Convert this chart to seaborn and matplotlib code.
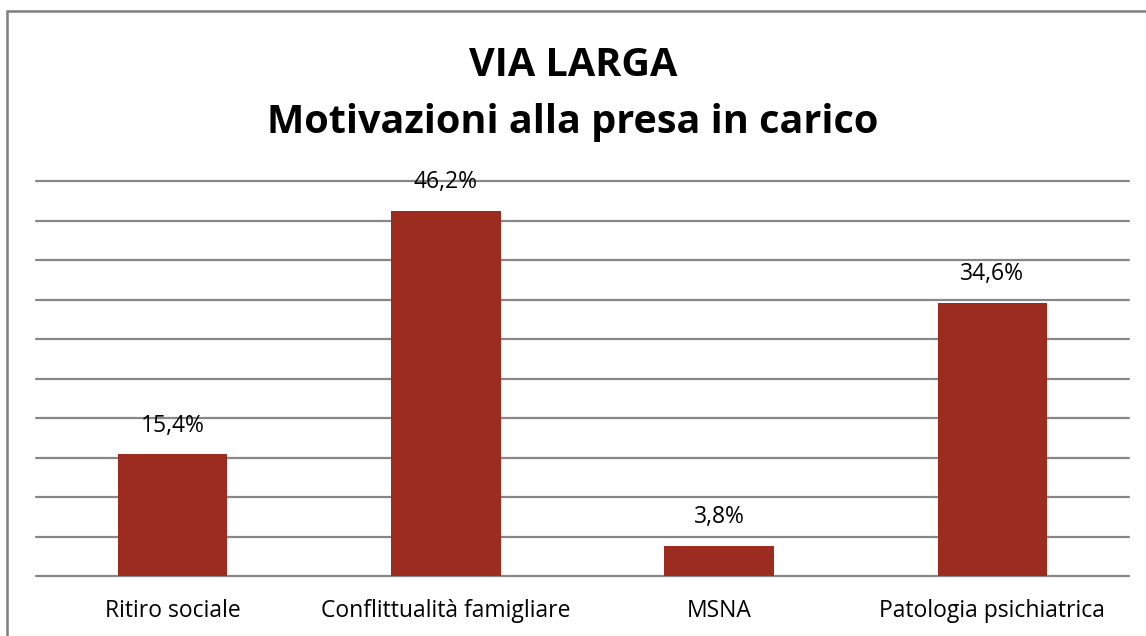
import matplotlib
matplotlib.use('Agg')
import matplotlib.pyplot as plt
import seaborn as sns
import pandas as pd
from matplotlib.patches import Rectangle

categories = ['Ritiro sociale', 'Conflittualità famigliare', 'MSNA', 'Patologia psichiatrica']
values = [15.4, 46.2, 3.8, 34.6]
labels = ['15,4%', '46,2%', '3,8%', '34,6%']
yticks = [0, 5, 10, 15, 20, 25, 30, 35, 40, 45, 50]

df = pd.DataFrame({'motivo': categories, 'perc': values})

sns.set_style('white', rc={'text.color': 'black', 'xtick.color': 'black'})
plt.rcParams['font.family'] = ['Open Sans', 'DejaVu Sans']

fig = plt.figure(figsize=(11.46, 6.36), dpi=100)
ax = fig.add_axes([36 / 1146, 1 - 576 / 636, (1129 - 36) / 1146, (576 - 181) / 636])

sns.barplot(x='motivo', y='perc', data=df, color='#9C2C20', width=0.4,
            saturation=1, linewidth=0, ax=ax, zorder=3)

ax.set_ylim(0, 50)
ax.set_xlim(-0.5, 3.5)
ax.set_yticks(yticks)
ax.yaxis.grid(True, color='#878787', linewidth=1.6, zorder=0)
for gl in ax.get_ygridlines():
    gl.set_clip_on(False)
ax.set_axisbelow(True)
ax.tick_params(axis='y', left=False, labelleft=False)
ax.tick_params(axis='x', bottom=False, labelsize=16.5, labelcolor='black', pad=13)
for s in ax.spines.values():
    s.set_visible(False)
ax.set_xlabel('')
ax.set_ylabel('')

for i, (v, lab) in enumerate(zip(values, labels)):
    ax.text(i, v + 2.1, lab, ha='center', va='bottom', fontsize=16.5, color='black')

fig.text(0.5, 1 - 65 / 636, 'VIA LARGA', ha='center', va='center',
         fontsize=28.5, fontweight='bold', color='black')
fig.text(0.5, 1 - 122 / 636, 'Motivazioni alla presa in carico', ha='center',
         va='center', fontsize=28.5, fontweight='bold', color='black')

fig.patches.append(Rectangle((7 / 1146, -0.1), 1.2, 1 - 11 / 636 + 0.1,
                             transform=fig.transFigure, fill=False,
                             edgecolor='#7f7f7f', linewidth=1.8))

fig.savefig('out.png', dpi=100)
